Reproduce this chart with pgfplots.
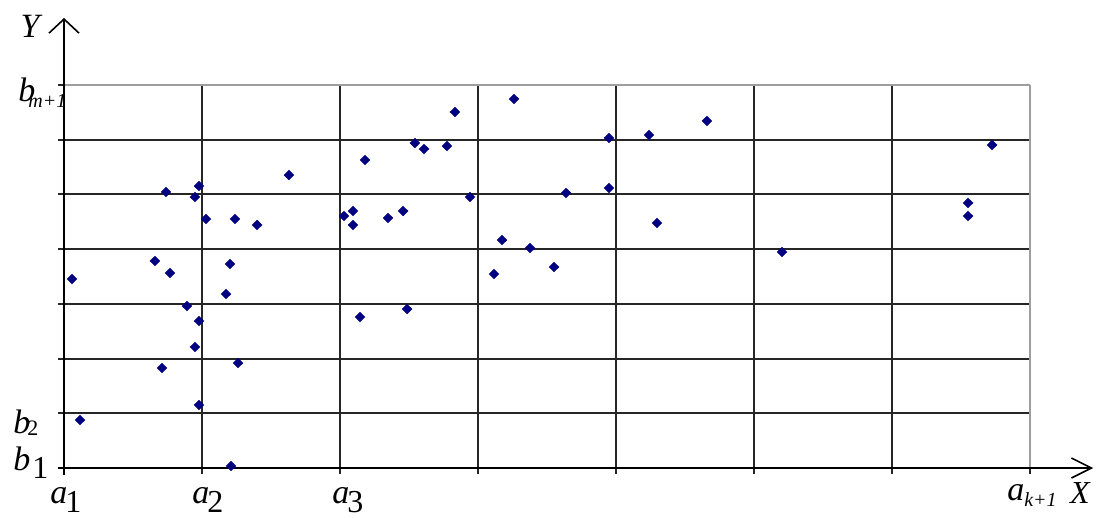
\documentclass[border=0pt]{standalone}
\usepackage{fontspec}
\setmainfont{Liberation Serif}
\usepackage{pgfplots}
\pgfplotsset{compat=1.18}
\usetikzlibrary{arrows.meta}
\definecolor{pt}{RGB}{0,0,128}
\begin{document}
\begin{tikzpicture}
\begin{axis}[
  scale only axis, width=483pt, height=191.5pt,
  xmin=0, xmax=7, ymin=0, ymax=7,
  axis line style={draw=none},
  xtick={0,...,6}, ytick={0,...,6},
  extra x ticks={7}, extra y ticks={7},
  xticklabels={}, yticklabels={},
  extra x tick labels={}, extra y tick labels={},
  extra tick style={grid style={draw=black!38, line width=1pt}},
  xmajorgrids, ymajorgrids,
  grid style={draw=black!85, line width=1pt},
  tick align=outside, major tick length=3pt,
  tick style={draw=black!85, line width=1pt},
  tick pos=left,
  clip=false,
]
\path (axis cs:-0.4638,-0.8956) rectangle (axis cs:7.4928,8.554);
\addplot[only marks, mark=diamond*, mark size=2.3pt, mark options={xscale=1.35}, color=pt] coordinates {
(0.058,3.455) (0.116,0.877) (0.659,3.784) (0.739,5.045) (0.768,3.564)
(0.710,1.828) (0.891,2.961) (0.949,4.953) (0.978,5.154) (0.978,2.687)
(0.949,2.212) (0.978,1.152) (1.029,4.551) (1.174,3.180) (1.203,3.729)
(1.239,4.551) (1.261,1.919) (1.210,0.037) (1.399,4.442) (1.630,5.355)
(2.029,4.606) (2.094,4.697) (2.094,4.442) (2.181,5.630) (2.145,2.760)
(2.348,4.570) (2.457,4.697) (2.486,2.906) (2.543,5.940) (2.609,5.831)
(2.775,5.885) (2.833,6.507) (2.942,4.953) (3.261,6.745)
(3.116,3.546) (3.174,4.167) (3.377,4.021) (3.551,3.674) (3.638,5.027)
(3.949,6.032) (3.949,5.118) (4.239,6.087) (4.297,4.478) (4.659,6.343)
(5.203,3.948) (6.551,4.844) (6.551,4.606) (6.725,5.904)
};
% axis lines with open arrows
\draw[black, line width=0.8pt, -{Straight Barb[length=7pt,width=15pt]}] (axis cs:0,-0.13) -- (axis cs:0,8.225);
\draw[black, line width=0.8pt, -{Straight Barb[length=10pt,width=10pt]}] (axis cs:-0.043,0) -- (axis cs:7.458,0);
% labels
\node[font=\fontsize{17}{20}\selectfont\itshape] at (axis cs:-0.246,8.08) {Y};
\node[font=\fontsize{16}{20}\selectfont\itshape] at (axis cs:7.362,-0.457) {X};
\node[anchor=base west, font=\fontsize{17}{20}\selectfont, inner sep=0pt] at (axis cs:-0.101,-0.64) {\textit{a}\kern-1pt\raisebox{-4.5pt}{\fontsize{16}{20}\selectfont 1}};
\node[anchor=base west, font=\fontsize{17}{20}\selectfont, inner sep=0pt] at (axis cs:0.928,-0.64) {\textit{a}\kern-1pt\raisebox{-4.5pt}{\fontsize{16}{20}\selectfont 2}};
\node[anchor=base west, font=\fontsize{17}{20}\selectfont, inner sep=0pt] at (axis cs:1.942,-0.64) {\textit{a}\kern-1pt\raisebox{-4.5pt}{\fontsize{16}{20}\selectfont 3}};
\node[anchor=base west, font=\fontsize{17}{20}\selectfont, inner sep=0pt] at (axis cs:6.833,-0.585) {\textit{a}\raisebox{-3pt}{\fontsize{10}{12}\selectfont\itshape k+1}};
\node[anchor=base west, font=\fontsize{17}{20}\selectfont, inner sep=0pt] at (axis cs:-0.333,6.69) {\textit{b}\kern-3.5pt\raisebox{-3pt}{\fontsize{10}{12}\selectfont\itshape m+1}};
\node[anchor=base west, font=\fontsize{17}{20}\selectfont, inner sep=0pt] at (axis cs:-0.370,0.640) {\textit{b}\kern-1.5pt\raisebox{-1pt}{\fontsize{11}{12}\selectfont 2}};
\node[anchor=base west, font=\fontsize{17}{20}\selectfont, inner sep=0pt] at (axis cs:-0.370,-0.037) {\textit{b}\kern1pt\raisebox{-4pt}{\fontsize{16}{20}\selectfont 1}};
\end{axis}
\end{tikzpicture}
\end{document}
